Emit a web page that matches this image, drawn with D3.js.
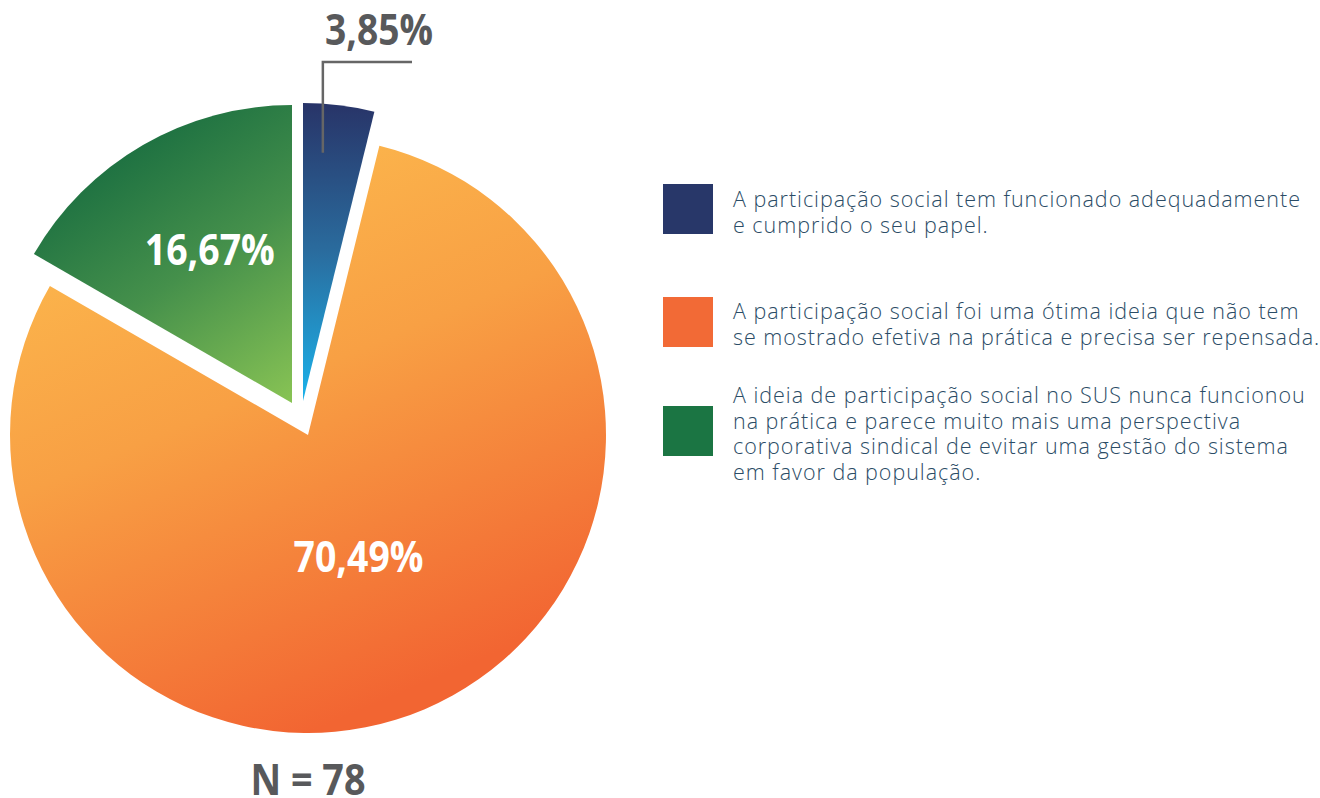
<!DOCTYPE html>
<html><head><meta charset="utf-8">
<script src="https://cdn.jsdelivr.net/npm/d3@7"></script>
<style>body{margin:0;background:#fff}svg{display:block}</style>
</head><body>
<svg id="chart" width="1320" height="798"></svg>
<script>
// ---- data ----
const categories = [
  ["A participação social tem funcionado adequadamente", "e cumprido o seu papel."],
  ["A participação social foi uma ótima ideia que não tem", "se mostrado efetiva na prática e precisa ser repensada."],
  ["A ideia de participação social no SUS nunca funcionou", "na prática e parece muito mais uma perspectiva", "corporativa sindical de evitar uma gestão do sistema", "em favor da população."]
];
const values = [3.85, 79.49, 16.67];          // slice sizes as drawn (angles in the picture)
const valueLabels = ["3,85%", "70,49%", "16,67%"]; // labels as printed
const sampleLabel = "N = 78";
const legendColors = ["#283769", "#f26a36", "#1b7543"];

// ---- layout / style ----
const W = 1320, H = 798;
const cx = 308, cy = 435, R = 298;
const explode = [[-5, -34], [0, 0], [-16, -32]];
const gradients = [
  {x1: 0, y1: -R, x2: 0, y2: 0, stops: [[0, "#283468"], [0.5, "#2a6c9e"], [1, "#1bb2ea"]]},
  {x1: -93, y1: -219, x2: 108, y2: 252, stops: [[0, "#fbb24b"], [0.35, "#f8a044"], [1, "#f26532"]]},
  {x1: -170, y1: -262, x2: 8, y2: 8, stops: [[0, "#1b6f41"], [0.45, "#45904b"], [1, "#8dc755"]]}
];
const labelRadius = [null, 132, 174];
const labelAngleFrac = [null, 0.502, 0.53];
const bigFont = "'Open Sans', 'Noto Sans', sans-serif";

const svg = d3.select("#chart");
const defs = svg.append("defs");
gradients.forEach((g, i) => {
  const lg = defs.append("linearGradient").attr("id", "g" + i)
    .attr("gradientUnits", "userSpaceOnUse")
    .attr("x1", g.x1).attr("y1", g.y1).attr("x2", g.x2).attr("y2", g.y2);
  g.stops.forEach(s => lg.append("stop").attr("offset", s[0]).attr("stop-color", s[1]));
});

const pie = d3.pie().sort(null).value(d => d);
const arcs = pie(values);
const arc = d3.arc().innerRadius(0).outerRadius(R);

const slices = svg.selectAll("g.slice").data(arcs).join("g")
  .attr("class", "slice")
  .attr("transform", (d, i) => `translate(${cx + explode[i][0]},${cy + explode[i][1]})`);
slices.append("path").attr("d", arc).attr("fill", (d, i) => `url(#g${i})`);

// inner labels
slices.filter((d, i) => labelRadius[i] !== null).append("text")
  .each(function(d) {
    const idx = arcs.indexOf(d);
    const a = d.startAngle + (d.endAngle - d.startAngle) * labelAngleFrac[idx];
    const p = d3.pointRadial(a, labelRadius[idx]);
    d3.select(this).attr("x", p[0]).attr("y", p[1] + 15).text(valueLabels[idx]);
  })
  .attr("text-anchor", "middle")
  .attr("font-family", bigFont).attr("font-weight", 700).attr("font-size", 43)
  .attr("fill", "#fff")
  .attr("textLength", 130).attr("lengthAdjust", "spacingAndGlyphs");

// leader for smallest slice
{
  const d = arcs[0];
  const a = d.startAngle + (d.endAngle - d.startAngle) * 0.33;
  const p = d3.pointRadial(a, 249);
  const x0 = cx + explode[0][0] + p[0], y0 = cy + explode[0][1] + p[1];
  const yTop = 62, xEnd = 412;
  svg.append("path")
    .attr("d", `M${x0},${y0}V${yTop}H${xEnd}`)
    .attr("fill", "none").attr("stroke", "#666").attr("stroke-width", 2.5);
  svg.append("text").attr("x", 379).attr("y", 45)
    .attr("text-anchor", "middle")
    .attr("font-family", bigFont).attr("font-weight", 700).attr("font-size", 43)
    .attr("fill", "#58595b")
    .attr("textLength", 108).attr("lengthAdjust", "spacingAndGlyphs")
    .text(valueLabels[0]);
}

// N label
svg.append("text").attr("x", cx).attr("y", 795)
  .attr("text-anchor", "middle")
  .attr("font-family", bigFont).attr("font-weight", 700).attr("font-size", 43)
  .attr("fill", "#58595b")
  .attr("textLength", 115).attr("lengthAdjust", "spacingAndGlyphs")
  .text(sampleLabel);

// legend
const legendSquareY = [184, 297, 406];
const legendBaseline = [207, 319, 403];
const lineH = 25.5;
const lg = svg.append("g").attr("class", "legend");
categories.forEach((lines, i) => {
  lg.append("rect").attr("x", 663).attr("y", legendSquareY[i])
    .attr("width", 50).attr("height", 50).attr("fill", legendColors[i]);
  const t = lg.append("text").attr("x", 733).attr("y", legendBaseline[i])
    .attr("font-family", "'Open Sans', 'Noto Sans', sans-serif")
    .attr("font-weight", 300).attr("font-size", 21.5).attr("fill", "#2b4c66");
  lines.forEach((ln, j) => {
    t.append("tspan").attr("x", 733).attr("y", legendBaseline[i] + j * lineH).text(ln);
  });
});
// fit widest line to reference width via letter spacing
{
  let maxW = 0, maxChars = 1;
  lg.selectAll("tspan").each(function() {
    const w = this.getComputedTextLength();
    if (w > maxW) { maxW = w; maxChars = this.textContent.length; }
  });
  const target = 587;
  const ls = (target - maxW) / maxChars;
  lg.selectAll("text").attr("letter-spacing", ls.toFixed(2));
}
</script>
</body></html>
